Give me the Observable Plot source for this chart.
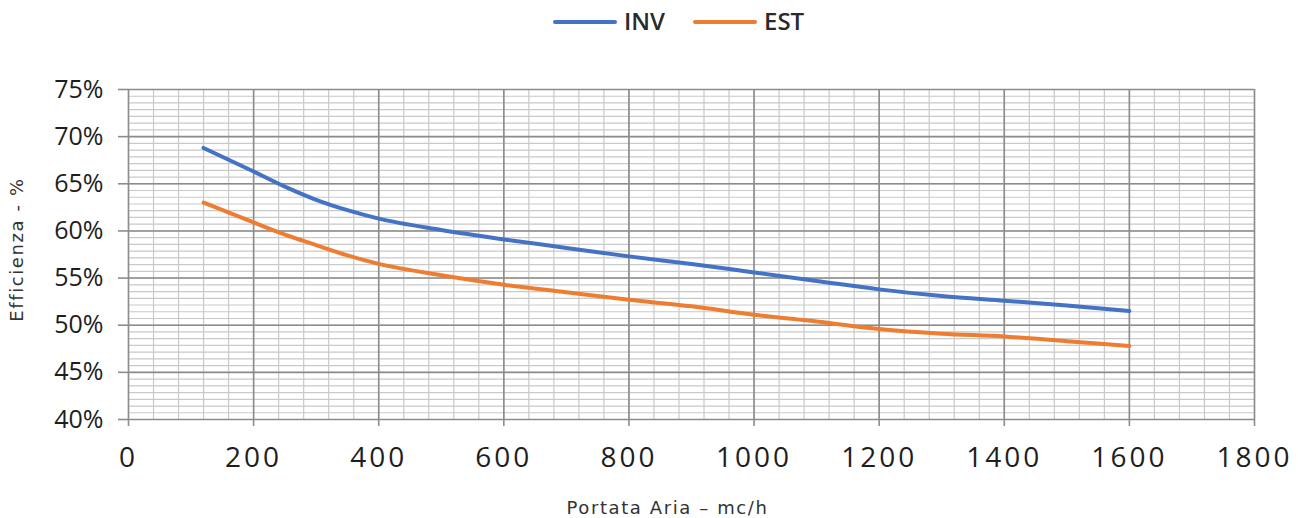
<!DOCTYPE html>
<html>
<head>
<meta charset="utf-8">
<script src="https://cdn.jsdelivr.net/npm/d3@7"></script>
<script src="https://cdn.jsdelivr.net/npm/@observablehq/plot@0.6"></script>
<style>
  body { margin: 0; background: #fff; width: 1298px; height: 518px; overflow: hidden; }
  #legend { position: relative; height: 48px; font-family: "Open Sans", sans-serif; }
  .sw { position: absolute; top: 20px; width: 64px; height: 4px; border-radius: 2px; }
  .lb { position: absolute; top: 5px; font-size: 24px; font-weight: 600; color: #2a2a2a; line-height: 32px; }
  g[aria-label="x-axis tick label"] text { letter-spacing: 3px; }
  g[aria-label="text"] text { letter-spacing: 1.6px; }
</style>
</head>
<body>
<div id="legend"></div>
<div id="chart"></div>
<script>
// Data
const portata = [120, 200, 250, 300, 350, 400, 500, 600, 700, 800, 900, 1000, 1100, 1200, 1300, 1400, 1500, 1600];
const inv =     [68.8, 66.3, 64.7, 63.3, 62.2, 61.3, 60.1, 59.1, 58.2, 57.3, 56.5, 55.6, 54.7, 53.8, 53.1, 52.6, 52.1, 51.5];
const est =     [63.0, 60.9, 59.6, 58.5, 57.4, 56.5, 55.3, 54.3, 53.5, 52.7, 52.0, 51.1, 50.4, 49.6, 49.1, 48.8, 48.3, 47.8];
const seriesNames = ["INV", "EST"];
const seriesColors = ["#4472C4", "#ED7D31"];
const xTicks = [0, 200, 400, 600, 800, 1000, 1200, 1400, 1600, 1800];
const yTicks = [40, 45, 50, 55, 60, 65, 70, 75];

const rows = [];
portata.forEach((p, i) => {
  rows.push({x: p, y: inv[i], s: "INV"});
  rows.push({x: p, y: est[i], s: "EST"});
});

// Legend
const legend = document.getElementById("legend");
const legendPos = [553, 693];
seriesNames.forEach((n, i) => {
  const sw = document.createElement("div");
  sw.className = "sw"; sw.style.left = legendPos[i] + "px"; sw.style.background = seriesColors[i];
  legend.appendChild(sw);
  const lb = document.createElement("div");
  lb.className = "lb"; lb.style.left = (legendPos[i] + 71) + "px"; lb.textContent = n;
  legend.appendChild(lb);
});

const minorX = d3.range(0, 1801, 40);
const minorY = d3.range(0, 49).map(i => 40 + i * 5 / 7);

const chart = Plot.plot({
  width: 1298,
  height: 470,
  marginLeft: 128,
  marginRight: 44,
  marginTop: 41,
  marginBottom: 99,
  style: {fontFamily: "Open Sans, sans-serif", fontSize: "25px", color: "#1e1e1e", background: "#fff"},
  x: {domain: [0, 1800]},
  y: {domain: [40, 75]},
  color: {domain: seriesNames, range: seriesColors},
  marks: [
    Plot.ruleX(minorX, {stroke: "#c9c9c9", strokeWidth: 1.2}),
    Plot.ruleY(minorY, {stroke: "#c9c9c9", strokeWidth: 1.2}),
    Plot.ruleX(xTicks, {stroke: "#8c8c8c", strokeWidth: 1.6}),
    Plot.ruleY(yTicks, {stroke: "#8c8c8c", strokeWidth: 1.6}),
    Plot.axisX({ticks: xTicks, tickSize: 7, tickPadding: 21, fontSize: 28, label: null, tickFormat: d => String(d), stroke: "#8c8c8c", strokeWidth: 1.6, fill: "#1e1e1e"}),
    Plot.axisY({ticks: yTicks, tickSize: 10, tickPadding: 15, fontSize: 25, label: null, tickFormat: d => d + "%", stroke: "#8c8c8c", strokeWidth: 1.6, fill: "#1e1e1e"}),
    Plot.line(rows, {x: "x", y: "y", z: "s", stroke: "s", strokeWidth: 4, curve: "monotone-x"}),
    Plot.text(["Efficienza - %"], {frameAnchor: "left", textAnchor: "middle", lineAnchor: "middle", rotate: -90, dx: -111, dy: -5, fontSize: 18, fontFamily: "DejaVu Sans, sans-serif", fill: "#333"}),
    Plot.text(["Portata Aria – mc/h"], {frameAnchor: "bottom", lineAnchor: "middle", dy: 89, dx: -24, fontSize: 18, fontFamily: "DejaVu Sans, sans-serif", fill: "#333"})
  ]
});
document.getElementById("chart").appendChild(chart);
</script>
</body>
</html>
